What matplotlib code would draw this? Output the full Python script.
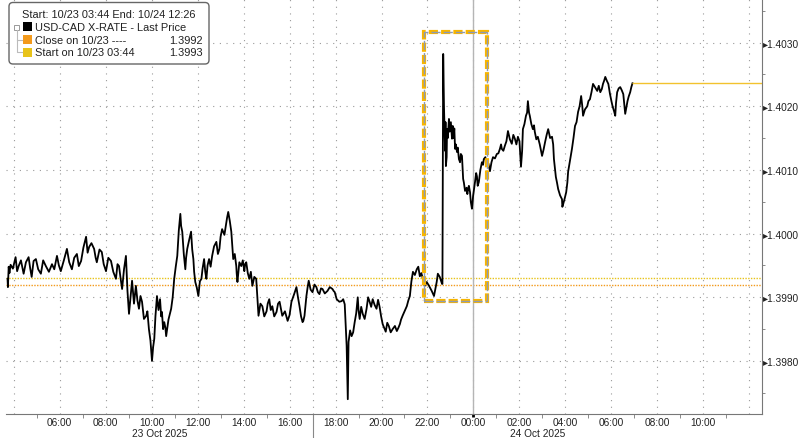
import matplotlib
matplotlib.use('Agg')
import matplotlib.pyplot as plt
import matplotlib.dates as mdates
import matplotlib.ticker as mticker
from matplotlib.patches import Rectangle, FancyBboxPatch
from matplotlib.transforms import IdentityTransform
import pandas as pd

# USD-CAD last price (23 Oct session then 24 Oct)
t_oct23 = ['03:44', '03:45', '03:47', '03:52', '04:05', '04:13', '04:26', '04:39', '04:47', '04:58',
           '05:11', '05:24', '05:40', '05:53', '06:03', '06:19', '06:32', '06:45', '06:56', '07:09',
           '07:17', '07:30', '07:37', '07:50', '08:01', '08:14', '08:27', '08:35', '08:43', '08:53',
           '09:01', '09:09', '09:19', '09:27', '09:35', '09:46', '09:53', '10:01', '10:07', '10:14',
           '10:22', '10:27', '10:33', '10:38', '10:51', '10:59', '11:07', '11:15', '11:20', '11:28',
           '11:33', '11:43', '11:49', '11:54', '12:02', '12:10', '12:17', '12:23', '12:30', '12:38',
           '12:49', '12:57', '13:04', '13:15', '13:20', '13:28', '13:33', '13:41', '13:44', '13:54',
           '14:02', '14:07', '14:15', '14:23', '14:33', '14:39', '14:49', '15:00', '15:07', '15:15',
           '15:26', '15:34', '15:41', '15:55', '16:05', '16:18', '16:26', '16:34', '16:39', '16:44',
           '16:50', '17:00', '17:10', '17:18', '17:26', '17:39', '17:52', '17:58', '18:03', '18:16',
           '18:24', '18:29', '18:32', '18:34', '18:42', '18:50', '18:58', '19:03', '19:11', '19:21',
           '19:29', '19:37', '19:47', '19:55', '20:03', '20:11', '20:19', '20:29', '20:40', '20:48',
           '20:55', '21:06', '21:14', '21:22', '21:32', '21:40', '21:48', '21:58', '22:11', '22:24',
           '22:27', '22:32', '22:38', '22:39', '22:40', '22:41', '22:43', '22:45', '22:48', '22:51',
           '22:56', '23:04', '23:06', '23:12', '23:17', '23:22', '23:30', '23:33', '23:38', '23:46',
           '23:51', '23:56', '23:59']
p_oct23 = [1.39929, 1.39916, 1.39948, 1.39951, 1.39963, 1.39949, 1.39937, 1.39963, 1.39932, 1.39960,
           1.39937, 1.39949, 1.39952, 1.39965, 1.39941, 1.39976, 1.39944, 1.39968, 1.39957, 1.39995,
           1.39979, 1.39976, 1.39955, 1.39971, 1.39941, 1.39957, 1.39929, 1.39949, 1.39913, 1.39965,
           1.39874, 1.39926, 1.39918, 1.39882, 1.39893, 1.39871, 1.39850, 1.39800, 1.39835, 1.39902,
           1.39897, 1.39877, 1.39861, 1.39839, 1.39882, 1.39929, 1.39965, 1.40031, 1.40003, 1.39944,
           1.39976, 1.40003, 1.39960, 1.39924, 1.39902, 1.39929, 1.39960, 1.39929, 1.39960, 1.39965,
           1.39987, 1.39976, 1.40007, 1.40018, 1.40034, 1.40003, 1.39960, 1.39949, 1.39924, 1.39949,
           1.39941, 1.39955, 1.39929, 1.39918, 1.39929, 1.39871, 1.39886, 1.39878, 1.39897, 1.39886,
           1.39877, 1.39893, 1.39871, 1.39863, 1.39893, 1.39916, 1.39886, 1.39861, 1.39871, 1.39902,
           1.39926, 1.39908, 1.39916, 1.39905, 1.39913, 1.39910, 1.39913, 1.39908, 1.39897, 1.39894,
           1.39889, 1.39824, 1.39740, 1.39830, 1.39839, 1.39861, 1.39900, 1.39866, 1.39874, 1.39882,
           1.39893, 1.39897, 1.39882, 1.39885, 1.39858, 1.39846, 1.39855, 1.39850, 1.39847, 1.39858,
           1.39871, 1.39886, 1.39902, 1.39940, 1.39944, 1.39933, 1.39929, 1.39924, 1.39910, 1.39924,
           1.39937, 1.39932, 1.39921, 1.39921, 1.40097, 1.40282, 1.40200, 1.40153, 1.40106, 1.40164,
           1.40180, 1.40149, 1.40169, 1.40133, 1.40128, 1.40117, 1.40122, 1.40086, 1.40067, 1.40070,
           1.40065, 1.40039, 1.40059]
t_oct24 = ['00:04', '00:09', '00:14', '00:22', '00:27', '00:35', '00:43', '00:51', '01:01', '01:09',
           '01:14', '01:22', '01:30', '01:40', '01:48', '01:56', '02:04', '02:09', '02:17', '02:22',
           '02:27', '02:35', '02:40', '02:48', '02:59', '03:07', '03:15', '03:25', '03:30', '03:35',
           '03:41', '03:51', '03:54', '04:02', '04:07', '04:17', '04:25', '04:33', '04:41', '04:46',
           '04:57', '05:04', '05:12', '05:23', '05:31', '05:38', '05:44', '05:52', '06:00', '06:05',
           '06:10', '06:15', '06:23', '06:31', '06:36', '06:42', '06:49', '06:55']
p_oct24 = [1.40081, 1.40090, 1.40081, 1.40112, 1.40117, 1.40106, 1.40098, 1.40120, 1.40125, 1.40133,
           1.40133, 1.40138, 1.40161, 1.40141, 1.40149, 1.40152, 1.40105, 1.40164, 1.40185, 1.40208,
           1.40185, 1.40164, 1.40160, 1.40152, 1.40122, 1.40144, 1.40164, 1.40152, 1.40117, 1.40089,
           1.40070, 1.40054, 1.40046, 1.40065, 1.40097, 1.40133, 1.40169, 1.40191, 1.40216, 1.40185,
           1.40200, 1.40211, 1.40235, 1.40224, 1.40222, 1.40235, 1.40246, 1.40235, 1.40208, 1.40196,
           1.40185, 1.40222, 1.40230, 1.40219, 1.40188, 1.40208, 1.40222, 1.40236]

# extra in-between ticks (the short-term chop visible on the chart)
xt_oct23 = ['03:49', '03:58', '04:09', '04:19', '04:32', '04:43', '04:52', '05:04', '05:17', '05:32',
            '05:46', '05:58', '06:11', '06:25', '06:38', '06:50', '07:02', '07:13', '07:23', '07:34',
            '07:44', '07:55', '08:07', '08:20', '08:31', '08:39', '08:48', '08:57', '09:05', '09:14',
            '09:23', '09:31', '09:40', '09:49', '09:57', '10:04', '10:10', '10:18', '10:25', '10:30',
            '10:36', '10:44', '10:55', '11:03', '11:11', '11:17', '11:24', '11:30', '11:38', '11:46',
            '11:51', '11:58', '12:06', '12:13', '12:20', '12:26', '12:34', '12:43', '12:53', '13:00',
            '13:10', '13:17', '13:24', '13:30', '13:37', '13:42', '13:49', '13:58', '14:04', '14:11',
            '14:19', '14:28', '14:36', '14:44', '14:54', '15:03', '15:11', '15:20', '15:30', '15:38',
            '15:48', '16:00', '16:12', '16:22', '16:30', '16:36', '16:42', '16:47', '16:55', '17:05',
            '17:14', '17:22', '17:32', '17:45', '17:55', '18:10', '18:20', '18:38', '18:46', '18:54',
            '19:00', '19:07', '19:16', '19:25', '19:33', '19:42', '19:51', '19:59', '20:07', '20:15',
            '20:24', '20:35', '20:44', '20:51', '21:00', '21:10', '21:18', '21:27', '21:36', '21:44',
            '21:53', '22:04', '22:17', '22:44', '22:46', '22:47', '22:50', '22:53', '22:58', '23:01',
            '23:08', '23:10', '23:14', '23:19', '23:25', '23:27', '23:35', '23:42', '23:44', '23:48',
            '23:53', '23:57']
xp_oct23 = [1.39938, 1.39945, 1.39941, 1.39958, 1.39955, 1.39946, 1.39957, 1.39944, 1.39958, 1.39940,
            1.39944, 1.39950, 1.39958, 1.39955, 1.39962, 1.39949, 1.39978, 1.39970, 1.39985, 1.39962,
            1.39975, 1.39952, 1.39962, 1.39940, 1.39952, 1.39930, 1.39944, 1.39910, 1.39900, 1.39890,
            1.39895, 1.39902, 1.39866, 1.39878, 1.39832, 1.39822, 1.39870, 1.39880, 1.39870, 1.39850,
            1.39852, 1.39865, 1.39900, 1.39948, 1.40005, 1.40012, 1.39968, 1.39962, 1.39990, 1.39975,
            1.39940, 1.39915, 1.39925, 1.39945, 1.39940, 1.39950, 1.39948, 1.39980, 1.39968, 1.39995,
            1.39998, 1.40025, 1.40020, 1.39985, 1.39968, 1.39938, 1.39955, 1.39958, 1.39952, 1.39938,
            1.39940, 1.39932, 1.39900, 1.39890, 1.39870, 1.39890, 1.39880, 1.39870, 1.39890, 1.39880,
            1.39878, 1.39872, 1.39905, 1.39900, 1.39870, 1.39863, 1.39890, 1.39915, 1.39912, 1.39920,
            1.39908, 1.39914, 1.39906, 1.39916, 1.39910, 1.39893, 1.39897, 1.39848, 1.39845, 1.39875,
            1.39880, 1.39885, 1.39866, 1.39900, 1.39885, 1.39888, 1.39896, 1.39870, 1.39852, 1.39860,
            1.39845, 1.39855, 1.39852, 1.39865, 1.39878, 1.39895, 1.39925, 1.39935, 1.39948, 1.39938,
            1.39918, 1.39918, 1.39902, 1.40175, 1.40130, 1.40175, 1.40120, 1.40150, 1.40160, 1.40175,
            1.40150, 1.40165, 1.40140, 1.40135, 1.40112, 1.40125, 1.40080, 1.40072, 1.40062, 1.40075,
            1.40050, 1.40045]
xt_oct24 = ['00:02', '00:07', '00:11', '00:18', '00:25', '00:31', '00:39', '00:47', '00:56', '01:05',
            '01:12', '01:18', '01:26', '01:35', '01:44', '01:52', '02:00', '02:07', '02:13', '02:20',
            '02:25', '02:31', '02:38', '02:44', '02:53', '03:03', '03:11', '03:20', '03:28', '03:33',
            '03:38', '03:46', '03:52', '03:58', '04:05', '04:12', '04:21', '04:29', '04:37', '04:44',
            '04:51', '05:00', '05:08', '05:17', '05:27', '05:35', '05:41', '05:48', '05:56', '06:03',
            '06:07', '06:12', '06:19', '06:27', '06:34', '06:39', '06:45', '06:52']
xp_oct24 = [1.40072, 1.40095, 1.40075, 1.40100, 1.40108, 1.40120, 1.40110, 1.40112, 1.40118, 1.40126,
            1.40140, 1.40130, 1.40145, 1.40148, 1.40155, 1.40140, 1.40145, 1.40130, 1.40172, 1.40190,
            1.40190, 1.40172, 1.40170, 1.40148, 1.40140, 1.40132, 1.40155, 1.40150, 1.40140, 1.40100,
            1.40080, 1.40060, 1.40042, 1.40055, 1.40080, 1.40115, 1.40150, 1.40175, 1.40200, 1.40200,
            1.40195, 1.40208, 1.40222, 1.40230, 1.40232, 1.40227, 1.40240, 1.40240, 1.40220, 1.40200,
            1.40192, 1.40205, 1.40228, 1.40225, 1.40200, 1.40198, 1.40215, 1.40230]

close_1023 = 1.3992
start_1023 = 1.3993
last_price = 1.40236

# highlighted window around the spike
box_start, box_end = '2025-10-23 21:50', '2025-10-24 00:35'
box_low, box_high = 1.39894, 1.40317

x_min, x_max = pd.Timestamp('2025-10-23 03:40'), pd.Timestamp('2025-10-24 12:33')
day_split = pd.Timestamp('2025-10-23 17:00')
midnight = pd.Timestamp('2025-10-24 00:00')

def stamps(day, hhmm):
    return ['2025-10-' + day + ' ' + t for t in hhmm]

series = pd.Series(p_oct23 + p_oct24 + xp_oct23 + xp_oct24,
                   index=pd.to_datetime(stamps('23', t_oct23) + stamps('24', t_oct24)
                                        + stamps('23', xt_oct23) + stamps('24', xt_oct24))).sort_index()

font = ['Liberation Sans', 'DejaVu Sans']
grid_kw = dict(color='#9a9a9a', lw=0.8, ls=(0, (1, 5)))
txt = '#222222'

fig = plt.figure(figsize=(8, 4.39), dpi=100)
ax = fig.add_axes([0.0075, 0.0547, 0.945, 0.9453])

ax.axhline(start_1023, color='#e8c31a', lw=1, ls=(0, (1, 1)))
ax.axhline(close_1023, color='#f39a1c', lw=1, ls=(0, (1, 1)))
ax.axvline(midnight, color='#b5b5b5', lw=1)
ax.axvline(day_split, **grid_kw)
ax.plot(series.index, series.values, color='black', lw=1.3)
ax.hlines(last_price, series.index[-1], x_max, color='#f2c22e', lw=1)

b0 = mdates.date2num(pd.Timestamp(box_start))
b1 = mdates.date2num(pd.Timestamp(box_end))
ax.add_patch(Rectangle((b0, box_low), b1 - b0, box_high - box_low, fill=False,
                       ec='#f7b500', lw=3, ls=(0, (2.2, 0.75)), zorder=5))
ax.add_patch(Rectangle((b0, box_low), b1 - b0, box_high - box_low, fill=False,
                       ec='#8d9ab3', lw=1, ls=(0, (6.6, 2.2)), zorder=6))

ax.set_xlim(x_min, x_max)
ax.set_ylim(1.397168, 1.403683)

# labels on even hours, small tick marks on odd hours
ax.xaxis.set_major_locator(mdates.HourLocator(byhour=range(0, 24, 2)))
ax.xaxis.set_minor_locator(mdates.HourLocator(byhour=range(1, 24, 2)))
lo, hi = mdates.date2num(x_min), mdates.date2num(x_max)
ax.xaxis.set_major_formatter(mticker.FuncFormatter(
    lambda v, pos: '' if (v - lo < 1 / 24 or hi - v < 1 / 24) else mdates.num2date(v).strftime('%H:%M')))

ax.yaxis.tick_right()
ax.yaxis.set_major_locator(mticker.MultipleLocator(0.001))
ax.yaxis.set_minor_locator(mticker.MultipleLocator(0.0005))
ax.yaxis.set_major_formatter(mticker.FuncFormatter(lambda v, pos: '\u25b8' + f'{v:.4f}'))

ax.tick_params(axis='x', which='major', length=0, pad=2, labelsize=7.3, labelcolor=txt)
ax.tick_params(axis='x', which='minor', direction='out', length=3, color='#777')
ax.tick_params(axis='y', which='major', length=0, pad=0.5, labelsize=7.3, labelcolor=txt)
ax.tick_params(axis='y', which='minor', direction='out', length=2, color='#777')
for lab in ax.get_xticklabels() + ax.get_yticklabels():
    lab.set_family(font)

for side in ['top', 'left']:
    ax.spines[side].set_visible(False)
for side in ['right', 'bottom']:
    ax.spines[side].set_color('#777')

ax.grid(which='major', **grid_kw)

xt = ax.get_xaxis_transform()
ax.vlines(day_split, -0.06, 0, transform=xt, color='#888', lw=0.8, clip_on=False)
ax.vlines(midnight, -0.008, 0, transform=xt, color='black', lw=2, clip_on=False)
ax.text(x_min + (day_split - x_min) / 2, -0.0465, '23 Oct 2025', transform=xt, ha='center', va='center',
        fontsize=7.3, color=txt, family=font)
ax.text(day_split + (x_max - day_split) / 2, -0.0465, '24 Oct 2025', transform=xt, ha='center', va='center',
        fontsize=7.3, color=txt, family=font)

# legend box (pixel coordinates, origin at bottom-left)
H = 439
px = IdentityTransform()
fig.add_artist(FancyBboxPatch((9, H - 65), 200, 61.5, boxstyle='round,pad=0,rounding_size=4',
                              transform=px, fc='white', ec='#666', lw=1, zorder=10))
fs = 7.9
fig.text(22 / 800, 1 - 15.5 / H, 'Start: 10/23 03:44 End: 10/24 12:26', fontsize=fs, va='center',
         color=txt, family=font, zorder=11)
entries = [('black', 'USD-CAD X-RATE - Last Price', '', 27.7),
           ('#f39a1c', 'Close on 10/23 ----', '1.3992', 40.5),
           ('#e8c31a', 'Start on 10/23 03:44', '1.3993', 53.0)]
for col, lab, val, yc in entries:
    fig.add_artist(Rectangle((23, H - yc - 4.5), 9, 9, transform=px, fc=col, ec='none', zorder=11))
    fig.text(35 / 800, 1 - yc / H, lab, fontsize=fs, va='center', color=txt, family=font, zorder=11)
    if val:
        fig.text(203 / 800, 1 - yc / H, val, fontsize=fs, va='center', ha='right', color=txt,
                 family=font, zorder=11)
fig.add_artist(Rectangle((14, H - 31), 5, 5, transform=px, fc='white', ec='#999', lw=0.7, zorder=11))
fig.add_artist(plt.Line2D([16.5, 16.5, 22], [H - 31, H - 53, H - 53], transform=px, color='#bbb', lw=0.8, zorder=11))
fig.add_artist(plt.Line2D([16.5, 22], [H - 40.5, H - 40.5], transform=px, color='#bbb', lw=0.8, zorder=11))

fig.savefig('out.png', dpi=100)
